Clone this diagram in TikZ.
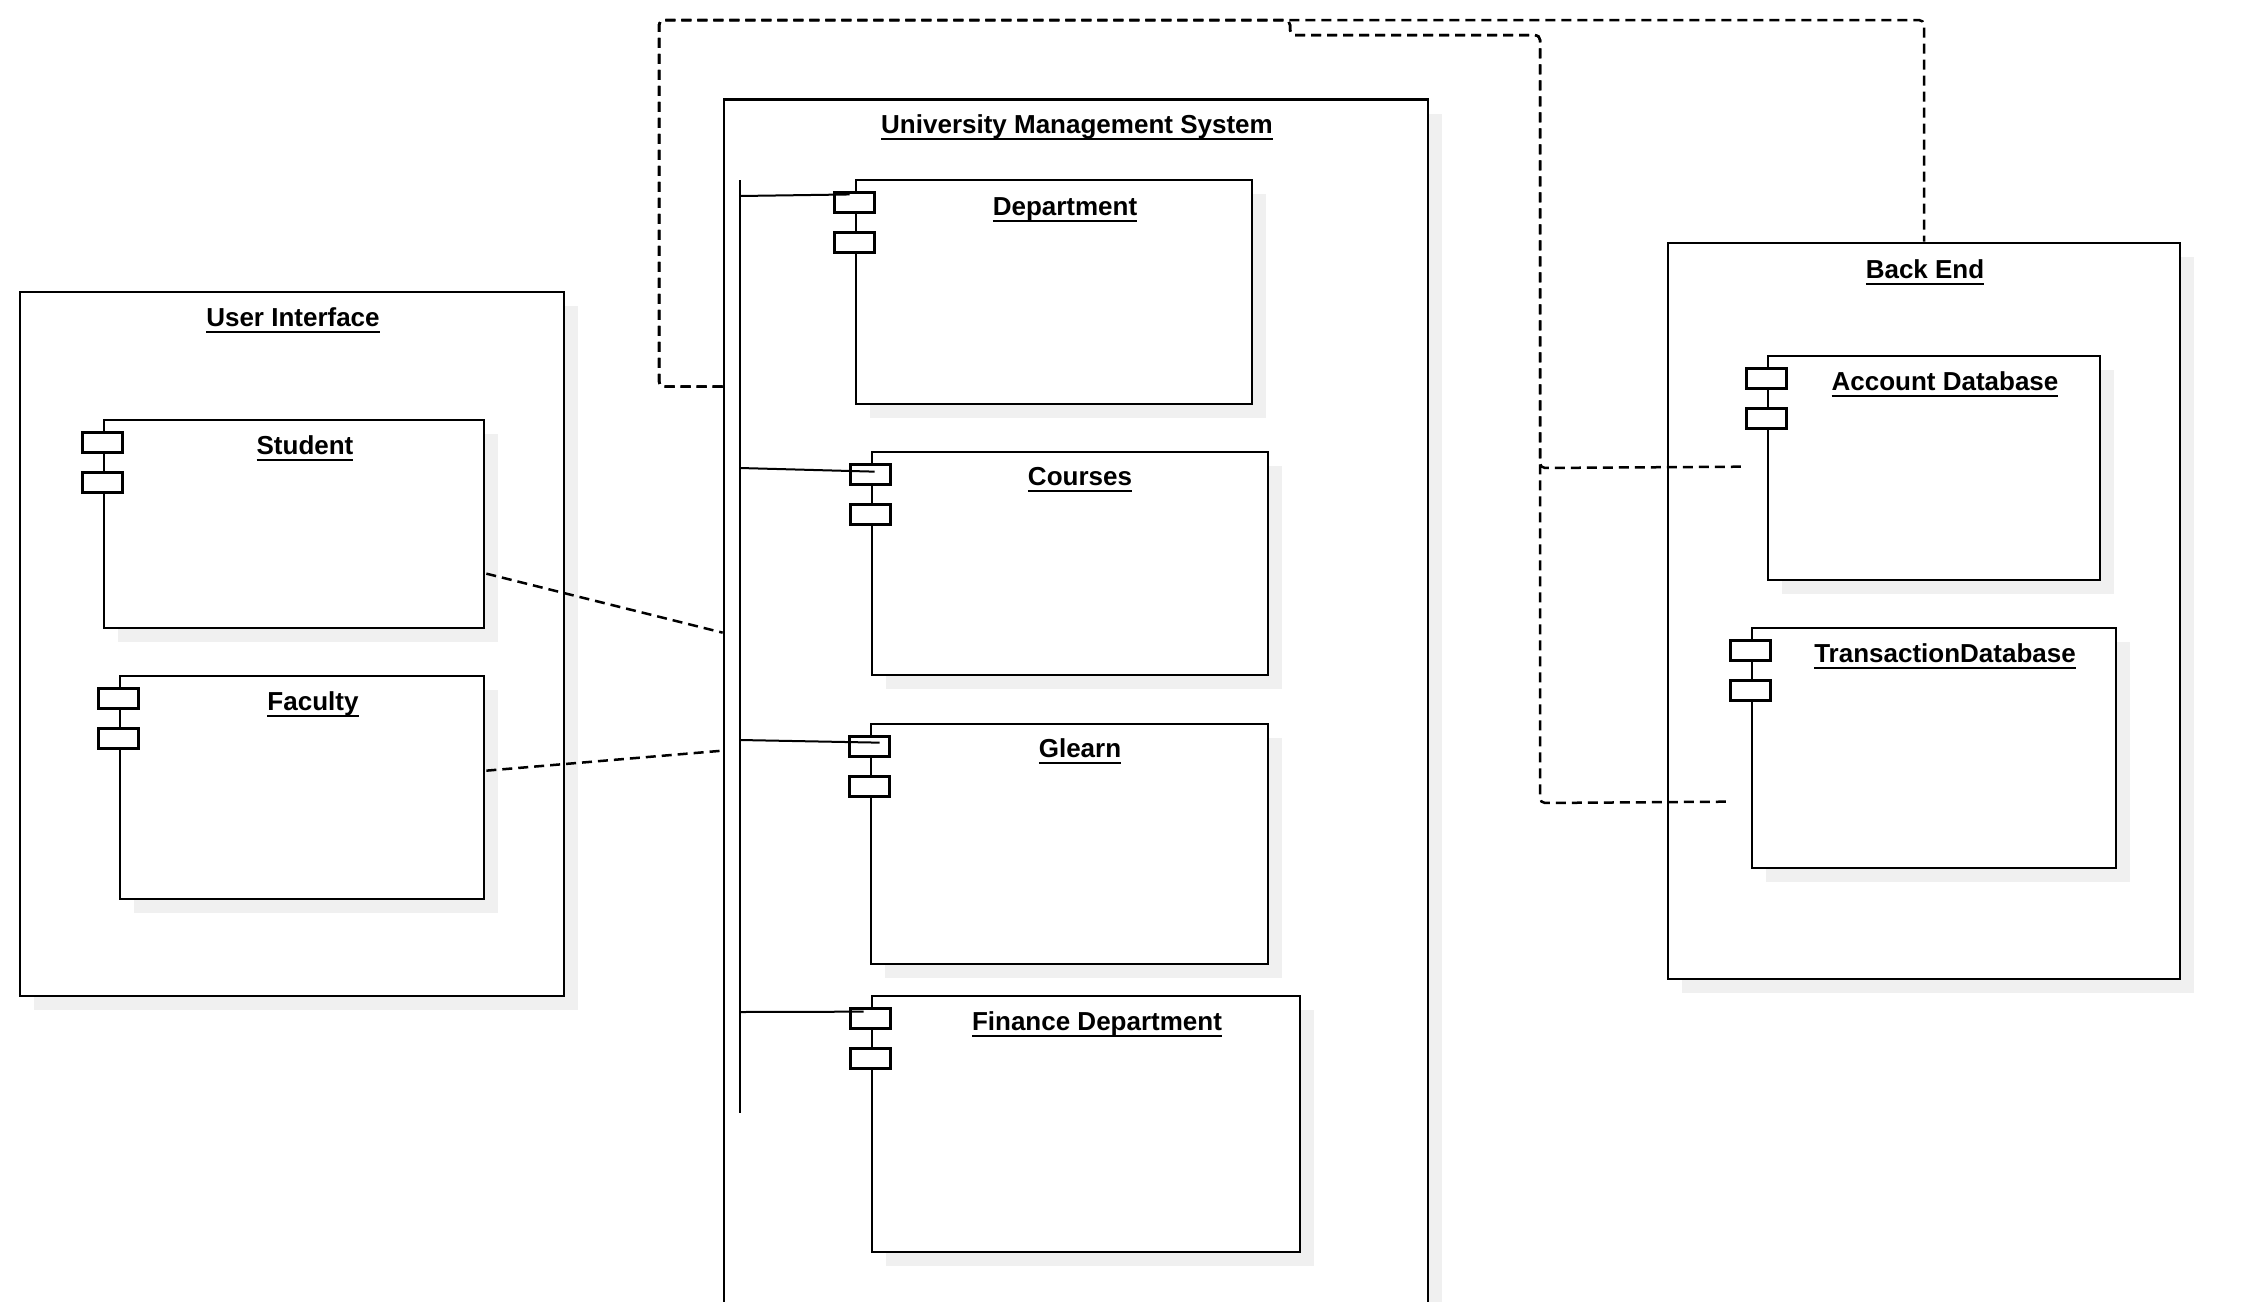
\documentclass[tikz,border=0pt]{standalone}
\usepackage{fontspec}
\setmainfont{Liberation Sans}
\usetikzlibrary{fit,calc,shadows}
\definecolor{shadowgray}{RGB}{240,240,240}
\newsavebox\ulsave
\newcommand\ultext[1]{\sbox\ulsave{#1}\rlap{\rule[-3.4pt]{\wd\ulsave}{1.1pt}}\usebox\ulsave}
\begin{document}
\begin{tikzpicture}[x=0.5pt,y=-0.5pt,
  box/.style={draw, line width=1.35pt, fill=white, inner sep=0pt,
    drop shadow={shadow xshift=7pt, shadow yshift=-7pt, fill=shadowgray, opacity=1}},
  port/.style={draw, line width=1.2pt, fill=white, inner sep=0pt, minimum width=20pt, minimum height=10pt},
  title/.style={anchor=base, inner sep=0pt, font=\fontsize{13}{15}\selectfont\bfseries},
  bus/.style={line width=1pt},
  conn/.style={line width=1pt},
  dep/.style={line width=1.25pt, dash pattern=on 5pt off 3pt, rounded corners=2.5pt}]
\useasboundingbox (0,0) rectangle (2262,1301);
\clip (0,0) rectangle (2262,1301);
\fill[white] (0,0) rectangle (2262,1301);

% containers
\node[box, fit={(724,99.5) (1428,1330)}] (ums) {};
\node[box, fit={(20,292) (564,996)}] (ui) {};
\node[box, fit={(1668,243) (2180,979)}] (be) {};
\node[title] (ums-t) at (1077,133) {\ultext{University Management System}};
\node[title] (ui-t) at (293,326) {\ultext{User Interface}};
\node[title] (be-t) at (1925,278) {\ultext{Back End}};

% components
\node[box, fit={(856,180) (1252,404)}] (dept) {};
\node[box, fit={(872,452) (1268,675)}] (courses) {};
\node[box, fit={(871,724) (1268,964)}] (glearn) {};
\node[box, fit={(872,996) (1300,1252)}] (fin) {};
\node[box, fit={(104,420) (484,628)}] (student) {};
\node[box, fit={(120,676) (484,899)}] (faculty) {};
\node[box, fit={(1768,356) (2100,580)}] (acc) {};
\node[box, fit={(1752,628) (2116,868)}] (trans) {};

% ports
\foreach \n in {dept,courses,glearn,fin,student,faculty,acc,trans}{
  \node[port] (\n-p1) at ($(\n.north west)+(0,24)$) {};
  \node[port] (\n-p2) at ($(\n.north west)+(0,64)$) {};
}

% titles
\node[title] (dept-t) at (1065,215) {\ultext{Department}};
\node[title] (courses-t) at (1080,485) {\ultext{Courses}};
\node[title] (glearn-t) at (1080,757) {\ultext{Glearn}};
\node[title] (fin-t) at (1097,1030) {\ultext{Finance Department}};
\node[title] (student-t) at (305,454) {\ultext{Student}};
\node[title] (faculty-t) at (313,710) {\ultext{Faculty}};
\node[title] (acc-t) at (1945,390) {\ultext{Account Database}};
\node[title] (trans-t) at (1945,662) {\ultext{TransactionDatabase}};

% bus inside the system
\coordinate (bustop) at (740,180);
\coordinate (busbot) at (740,1113);
\draw[bus] (bustop) -- (busbot);
\coordinate (b1) at (740,196);
\coordinate (b2) at (740,468);
\coordinate (b3) at (740,740);
\coordinate (b4) at (740,1012);
\draw[conn] (b1) -- ($(dept-p1.north)+(-5,3)$);
\draw[conn] (b2) -- ($(courses-p1.center)+(4,-3)$);
\draw[conn] (b3) -- ($(glearn-p1.center)+(10,-4)$);
\draw[conn] (b4) -- ($(fin-p1.center)+(-7,-7)$);

% dashed dependencies
\draw[dep] ($(student.north east)+(1,155)$) -- ($(ums.north west)+(0,534.5)$);
\draw[dep] ($(faculty.north east)+(1,96)$) -- ($(ums.north west)+(0,652.5)$);

\coordinate (ums-out) at ($(ums.north west)+(0,288.5)$);
\coordinate (acc-in) at ($(acc.north west)+(-20,112)$);
\coordinate (trans-in) at ($(trans.north west)+(-20,175)$);
\draw[dep] (ums-out) -| (659,20) -| (be.north);
\draw[dep] (ums-out) -| (659,20) -| (1290,35) -| (1540,468) -- (acc-in);
\draw[dep] (ums-out) -| (659,20) -| (1290,35) -| (1540,803) -- (trans-in);
\end{tikzpicture}
\end{document}
